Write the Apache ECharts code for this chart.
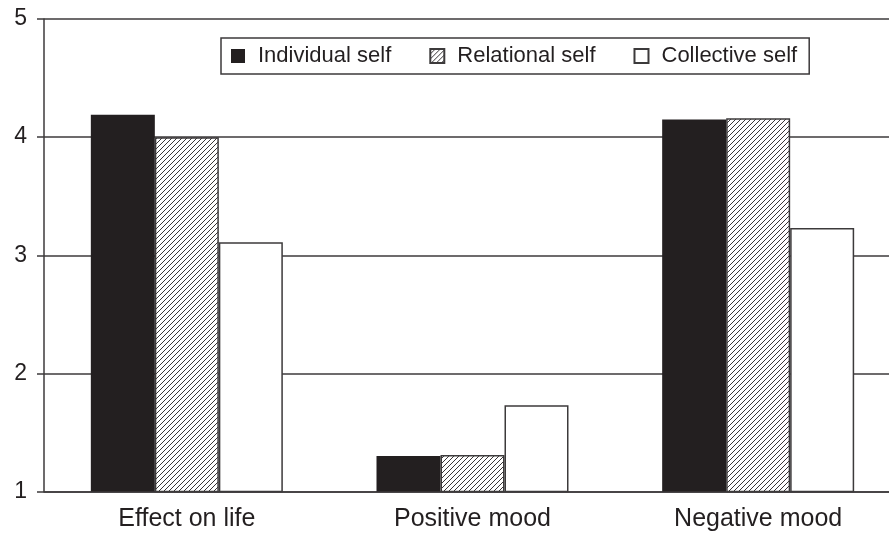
<!DOCTYPE html>
<html>
<head>
<meta charset="utf-8">
<script src="https://cdn.jsdelivr.net/npm/echarts@6/dist/echarts.min.js"></script>
<style>
  html, body { margin: 0; padding: 0; background: #fff; overflow: hidden; }
  /* the plot runs a little past the right edge of the picture, so the canvas is wider than the window */
  #chart { width: 901px; height: 533px; }
</style>
</head>
<body>
<div id="chart"></div>
<script>
const categories = ['Effect on life', 'Positive mood', 'Negative mood']
const individualSelf = [4.19, 1.30, 4.15]
const relationalSelf = [4.00, 1.31, 4.16]
const collectiveSelf = [3.11, 1.73, 3.23]
const yTicks = [1, 2, 3, 4, 5]

const ink = '#231f20'
const lineColor = '#3c3a3b'

// diagonal hatch pattern for the relational self bars
function makeHatch() {
  const s = 5
  const c = document.createElement('canvas')
  c.width = s
  c.height = s
  const ctx = c.getContext('2d')
  ctx.fillStyle = '#fff'
  ctx.fillRect(0, 0, s, s)
  ctx.strokeStyle = ink
  ctx.lineWidth = 0.9
  ctx.beginPath()
  ctx.moveTo(0, s)
  ctx.lineTo(s, 0)
  ctx.moveTo(-1, 1)
  ctx.lineTo(1, -1)
  ctx.moveTo(s - 1, s + 1)
  ctx.lineTo(s + 1, s - 1)
  ctx.stroke()
  return c
}

const chart = echarts.init(document.getElementById('chart'))

const option = {
  animation: false,
  backgroundColor: '#fff',
  textStyle: { fontFamily: 'Liberation Sans', color: ink },
  grid: {
    left: 44,
    right: 0,
    top: 19,
    height: 472.5,
    containLabel: false,
  },
  legend: {
    left: 221,
    top: 38,
    padding: [7, 12, 7, 10],
    borderColor: lineColor,
    borderWidth: 1.5,
    icon: 'rect',
    itemWidth: 14,
    itemHeight: 14,
    itemGap: 38,
    textStyle: { fontSize: 22, color: ink, fontFamily: 'Liberation Sans', padding: [0, 0, 0, 8] },
    data: ['Individual self', 'Relational self', 'Collective self'],
  },
  xAxis: {
    type: 'category',
    data: categories,
    boundaryGap: true,
    axisLine: { show: true, lineStyle: { color: lineColor, width: 1.5 } },
    axisTick: { show: false },
    axisLabel: { fontSize: 25, color: ink, margin: 15 },
    splitLine: { show: false },
  },
  yAxis: {
    type: 'value',
    min: yTicks[0],
    max: yTicks[yTicks.length - 1],
    interval: 1,
    axisLine: { show: true, lineStyle: { color: lineColor, width: 1.5 } },
    axisTick: { show: true, length: 7, lineStyle: { color: lineColor, width: 1.5 } },
    axisLabel: { fontSize: 23, color: ink, margin: 17 },
    splitLine: { show: true, lineStyle: { color: lineColor, width: 1.5 } },
  },
  series: [
    {
      name: 'Individual self',
      type: 'bar',
      data: individualSelf,
      barWidth: 64,
      barGap: '0%',
      itemStyle: { color: ink, borderColor: ink, borderWidth: 0 },
    },
    {
      name: 'Relational self',
      type: 'bar',
      data: relationalSelf,
      barWidth: 64,
      barGap: '0%',
      itemStyle: {
        color: { image: makeHatch(), repeat: 'repeat' },
        borderColor: lineColor,
        borderWidth: 1.5,
      },
    },
    {
      name: 'Collective self',
      type: 'bar',
      data: collectiveSelf,
      barWidth: 64,
      barGap: '0%',
      itemStyle: { color: '#fff', borderColor: lineColor, borderWidth: 1.5 },
    },
  ],
}

chart.setOption(option)
</script>
</body>
</html>
